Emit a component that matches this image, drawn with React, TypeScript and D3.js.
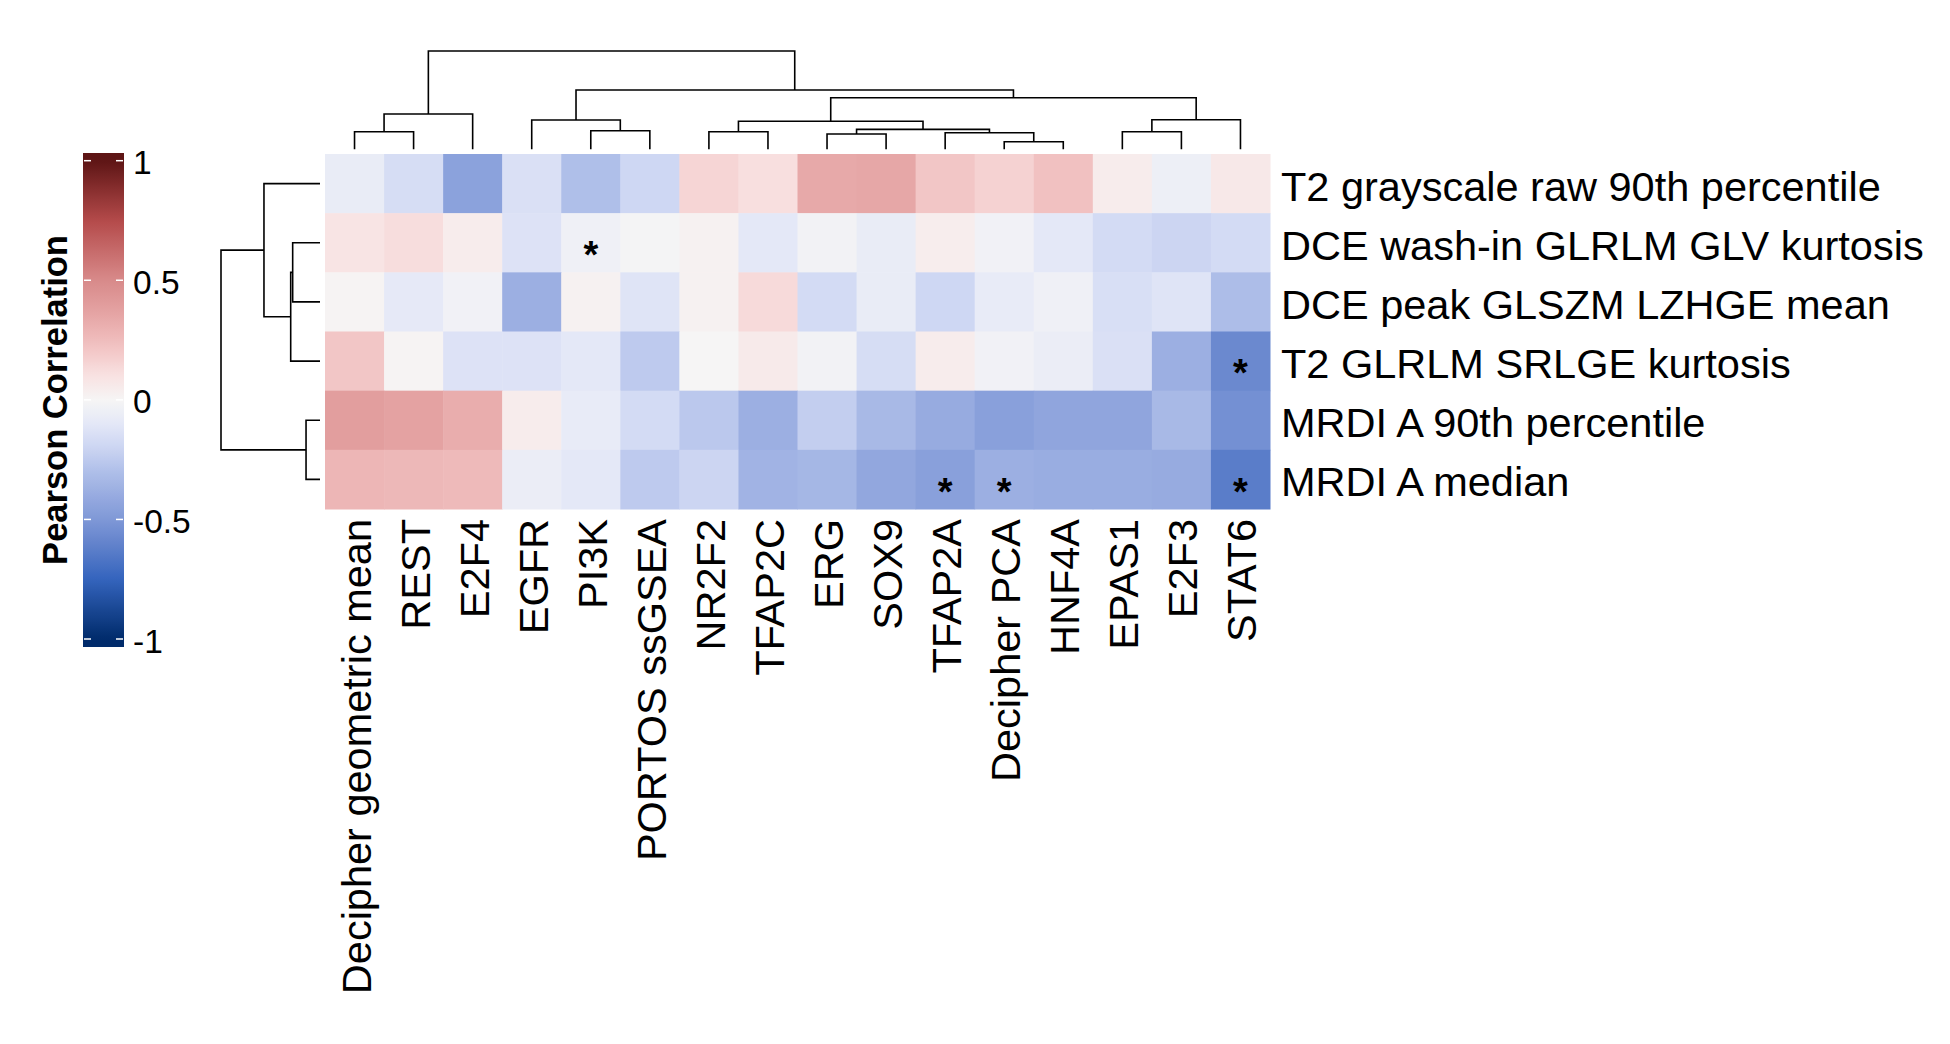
import React from "react";
import * as d3 from "d3";

// ---------------- data ----------------
const COLUMNS = [
  "Decipher geometric mean", "REST", "E2F4", "EGFR", "PI3K", "PORTOS ssGSEA",
  "NR2F2", "TFAP2C", "ERG", "SOX9", "TFAP2A", "Decipher PCA", "HNF4A", "EPAS1", "E2F3", "STAT6",
];
const ROWS = [
  "T2 grayscale raw 90th percentile",
  "DCE wash-in GLRLM GLV kurtosis",
  "DCE peak GLSZM LZHGE mean",
  "T2 GLRLM SRLGE kurtosis",
  "MRDI A 90th percentile",
  "MRDI A median",
];

const T2_GRAY_90 = [-0.07, -0.16, -0.45, -0.14, -0.3, -0.19, 0.15, 0.11, 0.34, 0.35, 0.21, 0.16, 0.23, 0.05, -0.05, 0.07];
const DCE_WASHIN = [0.09, 0.12, 0.05, -0.13, -0.04, -0.01, 0.02, -0.1, -0.02, -0.07, 0.04, -0.03, -0.1, -0.17, -0.2, -0.17];
const DCE_PEAK = [0.01, -0.09, -0.03, -0.38, 0.02, -0.12, 0.02, 0.13, -0.17, -0.07, -0.19, -0.08, -0.04, -0.15, -0.12, -0.31];
const T2_SRLGE = [0.21, 0.01, -0.13, -0.13, -0.1, -0.25, 0.0, 0.06, -0.02, -0.16, 0.05, -0.03, -0.06, -0.14, -0.38, -0.57];
const MRDI_90 = [0.39, 0.37, 0.32, 0.05, -0.08, -0.17, -0.26, -0.38, -0.23, -0.33, -0.4, -0.46, -0.43, -0.43, -0.33, -0.54];
const MRDI_MED = [0.28, 0.27, 0.26, -0.06, -0.1, -0.25, -0.2, -0.36, -0.34, -0.42, -0.46, -0.38, -0.39, -0.39, -0.4, -0.63];
const VALUES = [T2_GRAY_90, DCE_WASHIN, DCE_PEAK, T2_SRLGE, MRDI_90, MRDI_MED];

// significant cells [row, col]
const SIGNIFICANT = [[1, 4], [3, 15], [5, 10], [5, 11], [5, 15]];

// dendrograms: [left, right, height]; leaves are indices
type TreeNode = number | [TreeNode, TreeNode, number];
const COL_TREE: TreeNode = [
  [[0, 1, 0.179], 2, 0.359],
  [
    [3, [4, 5, 0.189], 0.298],
    [
      [[6, 7, 0.179], [[8, 9, 0.156], [10, [11, 12, 0.077], 0.169], 0.203], 0.285],
      [[13, 14, 0.179], 15, 0.301],
      0.525,
    ],
    0.603,
  ],
  1.0,
];
const ROW_TREE: TreeNode = [[0, [[1, 2, 0.276], 3, 0.296], 0.566], [4, 5, 0.141], 1.0];

const LEGEND_TICKS = [1, 0.5, 0, -0.5, -1];
const LEGEND_TITLE = "Pearson Correlation";

const COLOR_DOMAIN = [-1, -0.75, -0.6, -0.5, -0.4, -0.3, -0.2, -0.1, 0, 0.1, 0.2, 0.3, 0.4, 0.5, 0.75, 1];
const COLOR_RANGE = [
  "#002b6b", "#3464bd", "#6383cc", "#7f98d7", "#97abe0", "#afbfe9", "#ccd5f2", "#e4e8f7",
  "#f6f5f5", "#f8e2e2", "#f3c8c8", "#ebb1b1", "#e19c9c", "#d88a8a", "#b44a4a", "#5e1515",
];

// ---------------- layout ----------------
const W = 1950;
const H = 1044;
const FONT = "'Liberation Sans', Arial, Helvetica, sans-serif";
const HM = { x0: 325, x1: 1270, y0: 154, y1: 509 };

type Seg = { a: { p: number; h: number }; b: { p: number; h: number }; h: number };

function layoutTree(node: TreeNode, leafPos: (i: number) => number, segs: Seg[]): { p: number; h: number } {
  if (typeof node === "number") return { p: leafPos(node), h: 0 };
  const [l, r, h] = node;
  const a = layoutTree(l, leafPos, segs);
  const b = layoutTree(r, leafPos, segs);
  segs.push({ a, b, h });
  return { p: (a.p + b.p) / 2, h };
}

export default function App() {
  const xBand = d3.scaleBand<number>().domain(d3.range(COLUMNS.length)).range([HM.x0, HM.x1]);
  const yBand = d3.scaleBand<number>().domain(d3.range(ROWS.length)).range([HM.y0, HM.y1]);
  const color = d3.scaleLinear<string>().domain(COLOR_DOMAIN).range(COLOR_RANGE).interpolate(d3.interpolateRgb).clamp(true);

  const colCenter = (i: number) => (xBand(i) as number) + xBand.bandwidth() / 2;
  const rowCenter = (i: number) => (yBand(i) as number) + yBand.bandwidth() / 2;

  // column dendrogram
  const colH = d3.scaleLinear().domain([0, 1]).range([149.3, 51]);
  const colSegs: Seg[] = [];
  layoutTree(COL_TREE, colCenter, colSegs);
  // row dendrogram
  const rowH = d3.scaleLinear().domain([0, 1]).range([320, 221]);
  const rowSegs: Seg[] = [];
  layoutTree(ROW_TREE, rowCenter, rowSegs);

  // legend
  const legY = d3.scaleLinear().domain([-1, 1]).range([639, 160.7]);
  const barTop = 153;
  const barBot = 647;
  const gradStops = d3.range(0, 101).map((k) => {
    const t = k / 100;
    const v = legY.invert(barTop + t * (barBot - barTop));
    return { off: t, c: color(Math.max(-1, Math.min(1, v))) };
  });

  const labelFs = 41.5;
  const starFs = 38;

  return (
    <svg
      width={W}
      height={H}
      style={{ position: "absolute", left: 0, top: 0, background: "#ffffff" }}
      fontFamily={FONT}
    >
      <defs>
        <linearGradient id="legGrad" x1="0" y1="0" x2="0" y2="1">
          {gradStops.map((s, i) => (
            <stop key={i} offset={s.off} stopColor={s.c} />
          ))}
        </linearGradient>
      </defs>
      <rect x={0} y={0} width={W} height={H} fill="#ffffff" />

      {/* heatmap cells */}
      {VALUES.map((row, r) =>
        row.map((v, c) => (
          <rect
            key={`c${r}-${c}`}
            x={xBand(c)}
            y={yBand(r)}
            width={xBand.bandwidth() + 0.5}
            height={yBand.bandwidth() + 0.5}
            fill={color(v)}
          />
        ))
      )}

      {/* significance marks */}
      {SIGNIFICANT.map(([r, c]) => (
        <text
          key={`s${r}-${c}`}
          x={colCenter(c)}
          y={rowCenter(r) + 3.5 + 0.575 * starFs}
          fontSize={starFs}
          fontWeight="bold"
          textAnchor="middle"
          fill="#000"
        >
          *
        </text>
      ))}

      {/* column dendrogram */}
      <g stroke="#000" strokeWidth={1.6} fill="none">
        {colSegs.map((s, i) => (
          <path
            key={`cd${i}`}
            d={`M${s.a.p},${colH(s.a.h)}V${colH(s.h)}H${s.b.p}V${colH(s.b.h)}`}
          />
        ))}
      </g>

      {/* row dendrogram */}
      <g stroke="#000" strokeWidth={1.6} fill="none">
        {rowSegs.map((s, i) => (
          <path
            key={`rd${i}`}
            d={`M${rowH(s.a.h)},${s.a.p}H${rowH(s.h)}V${s.b.p}H${rowH(s.b.h)}`}
          />
        ))}
      </g>

      {/* row labels */}
      {ROWS.map((name, r) => (
        <text key={`rl${r}`} x={1281} y={rowCenter(r) + 17} fontSize={labelFs} fill="#000">
          {name}
        </text>
      ))}

      {/* column labels */}
      {COLUMNS.map((name, c) => (
        <text
          key={`cl${c}`}
          transform={`translate(${colCenter(c) + 16},519) rotate(-90)`}
          fontSize={labelFs}
          textAnchor="end"
          fill="#000"
        >
          {name}
        </text>
      ))}

      {/* legend */}
      <rect x={83} y={barTop} width={41} height={barBot - barTop} fill="url(#legGrad)" />
      {LEGEND_TICKS.map((t) => (
        <g key={`lt${t}`}>
          <line x1={84} x2={91} y1={legY(t)} y2={legY(t)} stroke="#fff" strokeWidth={1.5} />
          <line x1={116} x2={123} y1={legY(t)} y2={legY(t)} stroke="#fff" strokeWidth={1.5} />
          <text x={133} y={legY(t) + 13.5} fontSize={33.5} fill="#000">
            {String(t)}
          </text>
        </g>
      ))}
      <text
        transform={`translate(66.5,${(barTop + barBot) / 2}) rotate(-90)`}
        fontSize={34.5}
        fontWeight="bold"
        textAnchor="middle"
        fill="#000"
      >
        {LEGEND_TITLE}
      </text>
    </svg>
  );
}
